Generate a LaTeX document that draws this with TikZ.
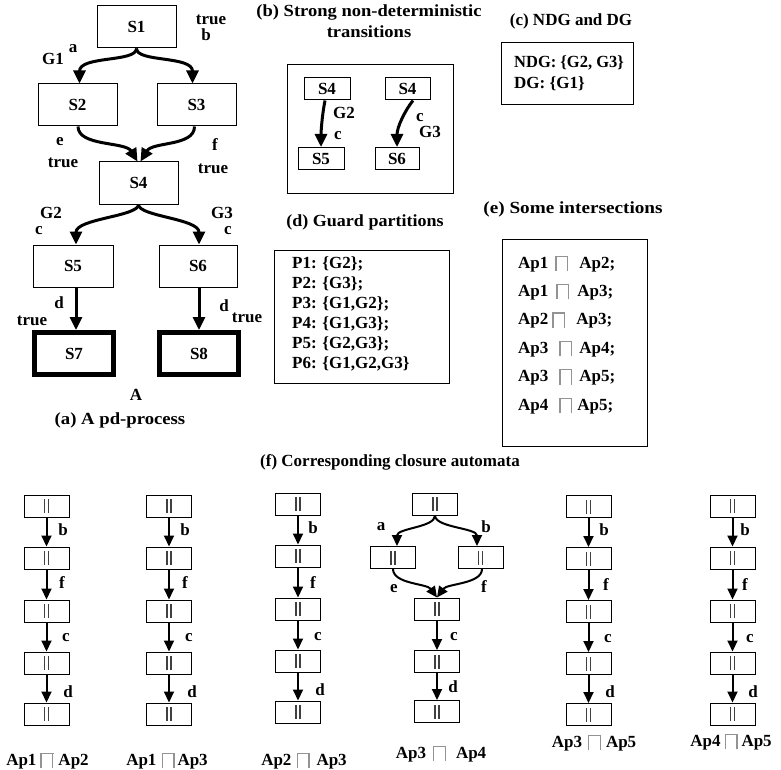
\documentclass[tikz,border=0pt]{standalone}
\usepackage{fontspec}
\usepackage{graphicx}
\setmainfont{Liberation Serif}
\usetikzlibrary{arrows.meta}
\newcommand\meet{{\color{gray!85}\vrule width 1.3pt height 12.5pt depth 3pt\kern-1.3pt\vrule width 13pt height 12.5pt depth -11.2pt\kern-1.3pt\vrule width 1.3pt height 12.5pt depth 3pt}}
\newcommand\bars{{\color{black!75}\vrule width 1.3pt height 7pt depth 7pt\kern2.7pt\vrule width 1.3pt height 7pt depth 7pt}}
\newcommand\ap[4]{#1\hspace{#3}\meet\hspace{#4}#2}
\newcommand\wide[2]{\scalebox{#1}[1]{#2}}
\begin{document}
\begin{tikzpicture}[x=1pt,y=-1pt,
  every node/.style={font=\bfseries\fontsize{17}{20}\selectfont, inner sep=0pt},
  sbox/.style={draw, line width=1pt, minimum width=79pt, minimum height=42pt},
  finbox/.style={draw, line width=5pt, minimum width=79pt, minimum height=42pt},
  sbx/.style={draw, line width=1pt, minimum width=46pt, minimum height=22pt},
  abox/.style={draw, line width=1pt, minimum width=45pt, minimum height=22pt},
  arr/.style={line width=3pt, -{Triangle[length=13pt,width=12pt]}},
  farr/.style={line width=2pt, -{Triangle[length=11pt,width=10pt]}},
  panel/.style={draw, line width=1pt}]
\fill[white] (0,0) rectangle (781,770);
\useasboundingbox (0,0) rectangle (781,770);

% ---------- (a) ----------
\node[sbox] (S1) at (136.5,27) {S1};
\node[sbox] (S2) at (77.5,105) {S2};
\node[sbox] (S3) at (196.5,105) {S3};
\node[sbox] (S4) at (138.5,183) {S4};
\node[sbox, minimum width=80pt] (S5) at (73,266) {S5};
\node[sbox, minimum width=78pt] (S6) at (198,266) {S6};
\node[finbox] (S7) at (74,353.5) {S7};
\node[finbox] (S8) at (199,353.5) {S8};

\draw[arr] (S1.south) .. controls +(0,14) and +(0,-28) .. ([xshift=2pt]S2.north);
\draw[arr] (S1.south) .. controls +(0,14) and +(0,-28) .. ([xshift=-4pt]S3.north);
\draw[arr] ([xshift=0.5pt]S2.south) .. controls +(0,20) and +(-12,-20) .. ([xshift=-1pt]S4.north);
\draw[arr] ([xshift=-2pt]S3.south) .. controls +(0,20) and +(12,-20) .. ([xshift=2pt]S4.north);
\draw[arr] (S4.south) .. controls +(0,12) and +(0,-26) .. ([xshift=3pt]S5.north);
\draw[arr] (S4.south) .. controls +(0,12) and +(0,-26) .. ([xshift=1pt]S6.north);
\draw[arr] ([xshift=3pt]S5.south) -- ([xshift=2pt]S7.north);
\draw[arr] ([xshift=1pt]S6.south) -- (S8.north);

\node at (211,20) {true};
\node at (206,35) {b};
\node at (53,59) {G1};
\node at (73,49) {a};
\node at (60,142) {e};
\node at (63,163) {true};
\node at (215,145) {f};
\node at (213,169) {true};
\node at (51,213) {G2};
\node at (39,231) {c};
\node at (222,213) {G3};
\node at (228,231) {c};
\node at (59,303) {d};
\node at (32,321) {true};
\node at (224,306) {d};
\node at (247,318) {true};
\node at (136,395) {A};
\node at (120,420) {\wide{1.1}{(a) A pd-process}};

% ---------- (b) ----------
\node at (369,12) {\wide{1.09}{(b) Strong non-deterministic}};
\node at (369,32) {\wide{1.09}{transitions}};
\draw[panel] (287,65) rectangle (453,193);
\node[sbx] (b4l) at (327,89) {S4};
\node[sbx, minimum width=45pt] (b4r) at (407.5,89) {S4};
\node[sbx] (b5) at (321,158.5) {S5};
\node[sbx, minimum width=44pt] (b6) at (397,158.5) {S6};
\draw[arr] ([xshift=-2pt]b4l.south) .. controls +(-3,15) and +(0,-15) .. (b5.north);
\draw[arr] ([xshift=5.5pt]b4r.south) .. controls +(-8,10) and +(0,-20) .. (b6.north);
\node at (344,113) {G2};
\node at (338,136) {c};
\node at (420,118) {c};
\node at (430,132) {G3};

% ---------- (c) ----------
\node at (571,21) {(c) NDG and DG};
\draw[panel] (501,43) rectangle (633,105);
\node[anchor=base west] at (514,68) {\wide{0.97}{NDG: \{G2, G3\}}};
\node[anchor=base west] at (514,89) {DG: \{G1\}};

% ---------- (d) ----------
\node at (365,222) {\wide{1.06}{(d) Guard partitions}};
\draw[panel] (274,250) rectangle (449,383);
\node[anchor=base west] at (292,268) {P1: \{G2\};};
\node[anchor=base west] at (292,288) {P2: \{G3\};};
\node[anchor=base west] at (292,308) {P3: \{G1,G2\};};
\node[anchor=base west] at (292,328) {P4: \{G1,G3\};};
\node[anchor=base west] at (292,348) {P5: \{G2,G3\};};
\node[anchor=base west] at (292,368) {P6: \{G1,G2,G3\}};

% ---------- (e) ----------
\node at (573,209) {\wide{1.13}{(e) Some intersections}};
\draw[panel] (502,239) rectangle (647,446);
\node[anchor=base west] at (518,268) {\ap{Ap1}{Ap2;}{7pt}{11pt}};
\node[anchor=base west] at (518,296.4) {\ap{Ap1}{Ap3;}{8pt}{8pt}};
\node[anchor=base west] at (518,324.8) {\ap{Ap2}{Ap3;}{4pt}{11pt}};
\node[anchor=base west] at (518,353.2) {\ap{Ap3}{Ap4;}{11pt}{7pt}};
\node[anchor=base west] at (518,381.6) {\ap{Ap3}{Ap5;}{11pt}{7pt}};
\node[anchor=base west] at (518,410) {\ap{Ap4}{Ap5;}{11pt}{5pt}};

% ---------- (f) ----------
\node at (390,462) {(f) Corresponding closure automata};
\foreach \c/\x/\yo in {1/46.5/0, 2/169/0, 3/298/-2, 5/588.5/0.5, 6/732.5/0} {
  \foreach \r/\yy in {1/506,2/558,3/611,4/663,5/714} {
    \node[abox] (c\c r\r) at (\x,\yy+\yo) {\bars};
  }
  \foreach \r/\n in {1/2,2/3,3/4,4/5} {
    \draw[farr] (c\c r\r.south) -- (c\c r\n.north);
  }
}
% column 4
\node[abox] (t4) at (435,504) {\bars};
\node[abox] (ml4) at (393,557.5) {\bars};
\node[abox] (mr4) at (480.5,557.5) {\bars};
\node[abox] (r43) at (437,609) {\bars};
\node[abox] (r44) at (437,661.5) {\bars};
\node[abox] (r45) at (437,711.5) {\bars};
\draw[farr] (t4.south) .. controls +(0,12) and +(0,-18) .. ([xshift=4pt]ml4.north);
\draw[farr] (t4.south) .. controls +(0,12) and +(0,-18) .. ([xshift=-3.5pt]mr4.north);
\draw[farr] (ml4.south) .. controls +(0,15) and +(-10,-14) .. (r43.north);
\draw[farr] ([xshift=1.5pt]mr4.south) .. controls +(0,15) and +(10,-14) .. (r43.north);
\draw[farr] (r43.south) -- (r44.north);
\draw[farr] (r44.south) -- (r45.north);

% labels
\node at (63,530) {b}; \node at (62,583) {f}; \node at (66,638) {c}; \node at (68,692) {d};
\node at (185,530) {b}; \node at (185,583) {f}; \node at (189,638) {c}; \node at (192,692) {d};
\node at (313,528) {b}; \node at (313,583) {f}; \node at (318,637) {c}; \node at (320,690) {d};
\node at (381,527) {a}; \node at (486,527) {b}; \node at (394,589) {e}; \node at (484,587) {f};
\node at (454,637) {c}; \node at (453,687) {d};
\node at (604,530) {b}; \node at (606,585) {f}; \node at (608,639) {c}; \node at (610,692) {d};
\node at (745,530) {b}; \node at (745,585) {f}; \node at (750,639) {c}; \node at (753,692) {d};

% captions
\node[anchor=base] at (47.5,765) {\ap{Ap1}{Ap2}{4pt}{5pt}};
\node[anchor=base] at (167,765) {\ap{Ap1}{Ap3}{5pt}{3pt}};
\node[anchor=base] at (304,765) {\ap{Ap2}{Ap3}{5pt}{7pt}};
\node[anchor=base] at (441,758) {\ap{Ap3}{Ap4}{7pt}{10pt}};
\node[anchor=base] at (594,747) {\ap{Ap3}{Ap5}{6pt}{5pt}};
\node[anchor=base] at (731,746) {\ap{Ap4}{Ap5}{4pt}{4pt}};
\end{tikzpicture}
\end{document}
